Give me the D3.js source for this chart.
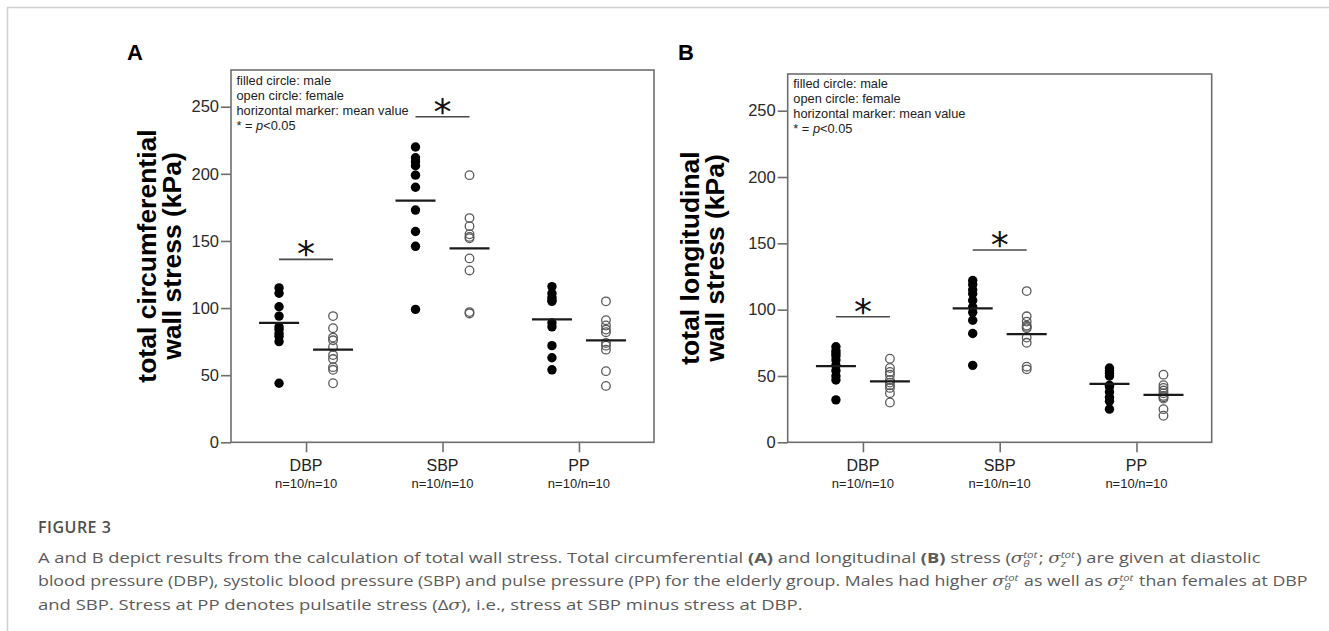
<!DOCTYPE html>
<html><head><meta charset="utf-8">
<script src="https://cdn.jsdelivr.net/npm/d3@7"></script>
<style>
body{margin:0;background:#fff;}
#wrap{position:relative;width:1329px;height:631px;overflow:hidden;background:#fff;}
svg{position:absolute;left:0;top:0;}
.cap{position:absolute;left:38px;white-space:nowrap;font-family:"Open Sans","Noto Sans",sans-serif;color:#5b5b5b;font-size:15px;line-height:23px;height:23px;transform-origin:0 50%;}
.fig{position:absolute;left:38px;top:516px;font-family:"Open Sans",sans-serif;font-weight:600;color:#4d4d4d;font-size:16px;line-height:22px;letter-spacing:0.5px;}
.st{display:inline-flex;flex-direction:column;font-size:9.5px;line-height:8.5px;vertical-align:5px;font-style:italic;margin:0 1px 0 0;}
.it{font-style:italic;font-family:"DejaVu Serif",serif;}
</style></head><body><div id="wrap"><svg id="chart" width="1329" height="631"></svg><div id="caption"></div></div>
<script>
// ---------- data ----------
const categories = ["DBP", "SBP", "PP"];
const nLabels = ["n=10/n=10", "n=10/n=10", "n=10/n=10"];
const yTicks = [0, 50, 100, 150, 200, 250];
const legendLines = ["filled circle: male", "open circle: female", "horizontal marker: mean value"];

// Panel A: total circumferential wall stress (kPa)
const maleA_DBP = [115, 111, 101, 94, 86, 84, 81, 79, 75, 44];
const femaleA_DBP = [94, 85, 78, 76, 71, 65, 62, 56, 54, 44];
const maleA_SBP = [220, 212, 209, 206, 199, 190, 173, 157, 146, 99];
const femaleA_SBP = [199, 167, 161, 155, 153, 152, 137, 128, 97, 96];
const maleA_PP = [116, 111, 108, 106, 105, 89, 86, 72, 63, 54];
const femaleA_PP = [105, 91, 87, 84, 82, 74, 72, 69, 53, 42];
const meanMaleA = [89, 180, 91.5];
const meanFemaleA = [69, 144.5, 76];
const sigA = [{cat: "DBP", value: 136.3}, {cat: "SBP", value: 242.5}];

// Panel B: total longitudinal wall stress (kPa)
const maleB_DBP = [72, 69, 67, 65, 62, 58, 54, 50, 47, 32];
const femaleB_DBP = [63, 56, 53, 51, 47, 45, 43, 41, 37, 30];
const maleB_SBP = [122, 119, 115, 112, 107, 102, 98, 92, 82, 58];
const femaleB_SBP = [114, 95, 91, 88, 87, 86, 79, 75, 57, 55];
const maleB_PP = [56, 54, 52, 50, 43, 42, 38, 34, 31, 25];
const femaleB_PP = [51, 43, 41, 39, 37, 35, 34, 33, 25, 20];
const meanMaleB = [57.5, 101, 44];
const meanFemaleB = [46, 81.5, 35.7];
const sigB = [{cat: "DBP", value: 94.7}, {cat: "SBP", value: 145}];

// ---------- drawing ----------
const svg = d3.select("#chart");
const FONT = "'Liberation Sans', Arial, sans-serif";

// outer frame
svg.append("rect").attr("x", 7.5).attr("y", 7.5).attr("width", 1400).attr("height", 700)
  .attr("fill", "none").attr("stroke", "#cfcfcf").attr("stroke-width", 1.5);

function drawPanel(cfg) {
  const g = svg.append("g");
  const x = d3.scalePoint().domain(categories).range([cfg.left, cfg.right]).padding(0.55);
  const y = d3.scaleLinear().domain([0, 250]).range([cfg.bottom, cfg.y250]);
  const off = cfg.offset;

  // box
  g.append("rect").attr("x", cfg.left).attr("y", cfg.top)
    .attr("width", cfg.right - cfg.left).attr("height", cfg.bottom - cfg.top)
    .attr("fill", "none").attr("stroke", "#6e6e6e").attr("stroke-width", 1.6);

  // y axis
  const ya = g.append("g").attr("transform", `translate(${cfg.left},0)`)
    .call(d3.axisLeft(y).tickValues(yTicks).tickSize(10).tickPadding(2));
  ya.select(".domain").remove();
  ya.selectAll(".tick line").attr("stroke", "#6e6e6e").attr("stroke-width", 1.6);
  ya.selectAll(".tick text").attr("font-family", FONT).attr("font-size", 16.5).attr("fill", "#2a2a2a");

  // x axis
  const xa = g.append("g").attr("transform", `translate(0,${cfg.bottom})`)
    .call(d3.axisBottom(x).tickSize(10).tickFormat(""));
  xa.select(".domain").remove();
  xa.selectAll(".tick line").attr("stroke", "#6e6e6e").attr("stroke-width", 1.6);
  g.selectAll(".catlab").data(categories).join("text")
    .attr("x", d => x(d)).attr("y", cfg.bottom + 28.5).attr("text-anchor", "middle")
    .attr("font-family", FONT).attr("font-size", 16).attr("fill", "#222").text(d => d);
  g.selectAll(".nlab").data(nLabels).join("text")
    .attr("x", (d, i) => x(categories[i])).attr("y", cfg.bottom + 46).attr("text-anchor", "middle")
    .attr("font-family", FONT).attr("font-size", 13).attr("fill", "#222").text(d => d);

  // y title
  const yt = g.append("text").attr("transform", `translate(0,${cfg.titleY}) rotate(-90)`)
    .attr("text-anchor", "middle").attr("font-family", FONT).attr("font-weight", "bold")
    .attr("font-size", 26.5).attr("fill", "#000");
  yt.append("tspan").attr("x", 0).attr("y", cfg.titleX[0]).text(cfg.title[0]);
  yt.append("tspan").attr("x", 0).attr("y", cfg.titleX[1]).text(cfg.title[1]);

  // panel letter
  g.append("text").attr("x", cfg.letterX).attr("y", 60).attr("font-family", FONT)
    .attr("font-weight", "bold").attr("font-size", 22).attr("fill", "#000").text(cfg.letter);

  // legend
  const lg = g.append("text").attr("font-family", FONT).attr("font-size", 12.8).attr("fill", "#222");
  legendLines.forEach((t, i) => {
    lg.append("tspan").attr("x", cfg.legX).attr("y", cfg.legY + i * 15).text(t);
  });
  lg.append("tspan").text("* = ").attr("x", cfg.legX).attr("y", cfg.legY + 45);
  lg.append("tspan").attr("font-style", "italic").text("p");
  lg.append("tspan").text("<0.05");

  // dots
  cfg.male.forEach((arr, i) => {
    g.selectAll(null).data(arr).join("circle")
      .attr("cx", x(categories[i]) - off).attr("cy", d => y(d)).attr("r", 4.7)
      .attr("fill", "#000");
  });
  cfg.female.forEach((arr, i) => {
    g.selectAll(null).data(arr).join("circle")
      .attr("cx", x(categories[i]) + off).attr("cy", d => y(d)).attr("r", 4.3)
      .attr("fill", "none").attr("stroke", "#5a5a5a").attr("stroke-width", 1.3);
  });

  // mean markers
  const mm = (vals, sign) => g.selectAll(null).data(vals).join("line")
    .attr("x1", (d, i) => x(categories[i]) + sign * off - 20)
    .attr("x2", (d, i) => x(categories[i]) + sign * off + 20)
    .attr("y1", d => y(d)).attr("y2", d => y(d))
    .attr("stroke", "#1a1a1a").attr("stroke-width", 2.2);
  mm(cfg.meanMale, -1);
  mm(cfg.meanFemale, 1);

  // significance
  g.selectAll(null).data(cfg.sig).join("line")
    .attr("x1", d => x(d.cat) - off).attr("x2", d => x(d.cat) + off)
    .attr("y1", d => y(d.value)).attr("y2", d => y(d.value))
    .attr("stroke", "#4a4a4a").attr("stroke-width", 1.6);
  g.selectAll(null).data(cfg.sig).join("text")
    .attr("x", d => x(d.cat)).attr("y", d => y(d.value) + 7)
    .attr("text-anchor", "middle").attr("font-family", "'DejaVu Sans', sans-serif").attr("font-size", 36)
    .attr("fill", "#111").text("*");
}

drawPanel({
  letter: "A", letterX: 127,
  left: 231, right: 654, top: 70, bottom: 442.3, y250: 106.7, offset: 27,
  title: ["total circumferential", "wall stress (kPa)"], titleX: [156, 181], titleY: 256,
  legX: 236.5, legY: 85,
  male: [maleA_DBP, maleA_SBP, maleA_PP], female: [femaleA_DBP, femaleA_SBP, femaleA_PP],
  meanMale: meanMaleA, meanFemale: meanFemaleA, sig: sigA
});
drawPanel({
  letter: "B", letterX: 678,
  left: 787.7, right: 1211.7, top: 74, bottom: 442.3, y250: 110.7, offset: 27,
  title: ["total longitudinal", "wall stress (kPa)"], titleX: [699, 724], titleY: 258,
  legX: 793.3, legY: 88,
  male: [maleB_DBP, maleB_SBP, maleB_PP], female: [femaleB_DBP, femaleB_SBP, femaleB_PP],
  meanMale: meanMaleB, meanFemale: meanFemaleB, sig: sigB
});

// ---------- caption ----------
const captionTitle = "FIGURE 3";
const sT = '<span class="it">σ</span><span class="st"><span>tot</span><span>θ</span></span>';
const sZ = '<span class="it">σ</span><span class="st"><span>tot</span><span>z</span></span>';
const captionLines = [
  `A and B depict results from the calculation of total wall stress. Total circumferential <b>(A)</b> and longitudinal <b>(B)</b> stress (${sT}; ${sZ}) are given at diastolic`,
  `blood pressure (DBP), systolic blood pressure (SBP) and pulse pressure (PP) for the elderly group. Males had higher ${sT} as well as ${sZ} than females at DBP`,
  `and SBP. Stress at PP denotes pulsatile stress (Δ<span class="it">σ</span>), i.e., stress at SBP minus stress at DBP.`
];
const capTops = [546, 569.3, 592.6];
const capWidths = [1222.5, 1269.5, 764.5];
const cap = d3.select("#caption");
cap.append("div").attr("class", "fig").text(captionTitle);
captionLines.forEach((h, i) => {
  const d = cap.append("div").attr("class", "cap").style("top", capTops[i] + "px").html(h);
  const w = d.node().getBoundingClientRect().width;
  d.style("transform", `scaleX(${capWidths[i] / w})`);
});
</script></body></html>
